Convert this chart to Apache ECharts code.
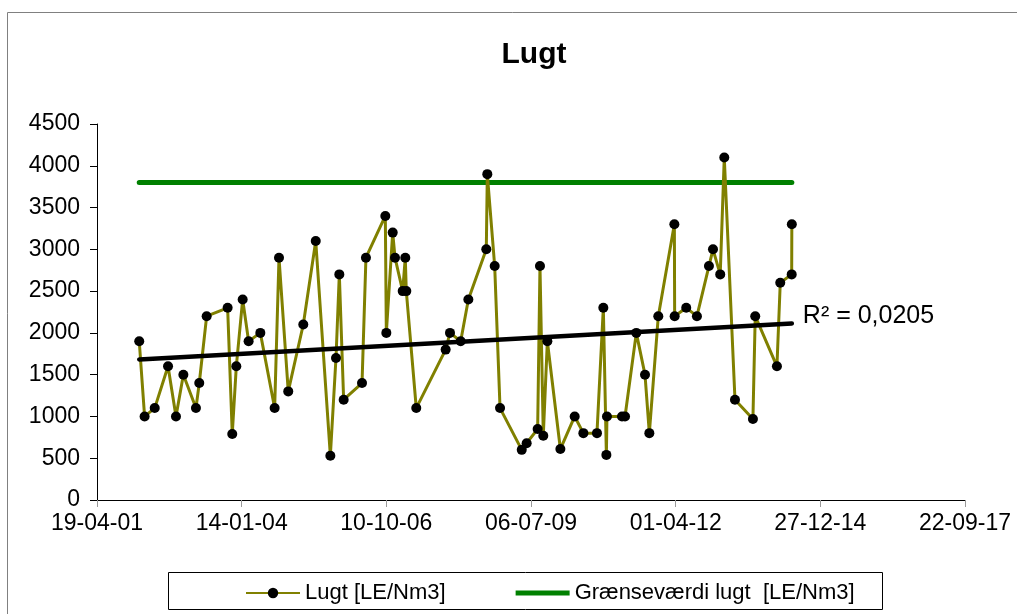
<!DOCTYPE html>
<html>
<head>
<meta charset="utf-8">
<title>Lugt</title>
<script src="https://cdn.jsdelivr.net/npm/echarts@6/dist/echarts.min.js"></script>
<style>
  html, body { margin: 0; padding: 0; background: #fff; }
  #chart { width: 1017px; height: 614px; }
</style>
</head>
<body>
<div id="chart"></div>
<script>
// dates as Excel serial day numbers (37000 = 19-04-2001)
const dates = [
  37292, 37329, 37399, 37491, 37546, 37597, 37684, 37707, 37758, 37903,
  37935, 37963, 38007, 38048, 38129, 38228, 38258, 38322, 38426, 38512,
  38613, 38652, 38675, 38705, 38832, 38859, 38993, 39000, 39044, 39060,
  39113, 39131, 39138, 39207, 39410, 39440, 39514, 39567, 39691, 39698,
  39749, 39786, 39936, 39970, 40046, 40062, 40085, 40113, 40203, 40302,
  40362, 40456, 40500, 40521, 40525, 40629, 40650, 40728, 40788, 40818,
  40880, 40991, 40993, 41073, 41147, 41230, 41258, 41308, 41336, 41410,
  41534, 41550, 41700, 41723, 41802, 41803
]
const lugt = [
  1900, 1000, 1100, 1600, 1000, 1500, 1100, 1400, 2200, 2300,
  790, 1600, 2400, 1900, 2000, 1100, 2900, 1300, 2100, 3100,
  530, 1700, 2700, 1200, 1400, 2900, 3400, 2000, 3200, 2900,
  2500, 2900, 2500, 1100, 1800, 2000, 1900, 2400, 3000, 3900,
  2800, 1100, 600, 680, 850, 2800, 770, 1900, 610, 1000,
  800, 800, 2300, 540, 1000, 1000, 1000, 2000, 1500, 800,
  2200, 3300, 2200, 2300, 2200, 2800, 3000, 2700, 4100, 1200,
  970, 2200, 1600, 2600, 2700, 3300
]
const limitValue = 3800
const r2Label = 'R² = 0,0205'
const xTicks = { min: 37000, max: 43000, step: 1000 }
const yTicks = { min: 0, max: 4500, step: 500 }

const serialToLabel = (s) => {
  const d = new Date((s - 25569) * 86400000)
  const p = (n) => String(n).padStart(2, '0')
  return p(d.getUTCDate()) + '-' + p(d.getUTCMonth() + 1) + '-' + p(d.getUTCFullYear() % 100)
}

// linear trend (least squares on serial date), like the Excel trendline
const n = dates.length
const mx = dates.reduce((a, b) => a + b, 0) / n
const my = lugt.reduce((a, b) => a + b, 0) / n
let sxy = 0, sxx = 0
for (let i = 0; i < n; i++) {
  sxy += (dates[i] - mx) * (lugt[i] - my)
  sxx += (dates[i] - mx) * (dates[i] - mx)
}
const slope = sxy / sxx
const icpt = my - slope * mx
const x0 = dates[0], x1 = dates[n - 1]

const font = 'Arial, "Liberation Sans", sans-serif'
const chart = echarts.init(document.getElementById('chart'))

chart.setOption({
  animation: false,
  backgroundColor: '#fff',
  title: {
    text: 'Lugt',
    left: 529,
    textAlign: 'center',
    top: 35,
    textStyle: { fontFamily: font, fontSize: 30, fontWeight: 'bold', color: '#000' }
  },
  graphic: [
    { type: 'rect', left: 5, top: 10, shape: { width: 1100, height: 700 },
      style: { fill: 'none', stroke: '#808080', lineWidth: 1 }, silent: true, z: -10 },
    { type: 'rect', left: 166, top: 570, shape: { width: 714, height: 37 },
      style: { fill: 'none', stroke: '#000', lineWidth: 1 }, silent: true }
  ],
  legend: {
    data: [
      { name: 'Lugt [LE/Nm3]' },
      // thick plain line, no marker
      { name: 'Grænseværdi lugt  [LE/Nm3]', icon: 'path://M0,0 M0,4 L54,4 L54,9 L0,9 Z M0,13' }
    ],
    left: 240,
    top: 577,
    itemWidth: 54,
    itemHeight: 13,
    itemGap: 70,
    textStyle: { fontFamily: font, fontSize: 22, color: '#000', lineHeight: 22 }
  },
  grid: { left: 97, right: 52, top: 124, bottom: 114 },
  xAxis: {
    type: 'value',
    min: xTicks.min,
    max: xTicks.max,
    interval: xTicks.step,
    splitLine: { show: false },
    axisLine: { lineStyle: { color: '#000', width: 1 } },
    axisTick: { show: true, length: 7, lineStyle: { color: '#999' } },
    axisLabel: {
      margin: 12,
      fontFamily: font, fontSize: 23, color: '#000',
      formatter: serialToLabel
    }
  },
  yAxis: {
    type: 'value',
    min: yTicks.min,
    max: yTicks.max,
    interval: yTicks.step,
    splitLine: { show: false },
    axisLine: { show: true, lineStyle: { color: '#000', width: 1 } },
    axisTick: { show: true, length: 7, lineStyle: { color: '#000' } },
    axisLabel: {
      margin: 17, fontFamily: font, fontSize: 23, color: '#000',
      formatter: (v) => String(v)
    }
  },
  series: [
    {
      name: 'Grænseværdi lugt  [LE/Nm3]',
      type: 'line',
      data: [[x0, limitValue], [x1, limitValue]],
      symbol: 'none',
      color: '#008000',
      lineStyle: { color: '#008000', width: 5, cap: 'round' },
      z: 2
    },
    {
      name: 'Lugt [LE/Nm3]',
      type: 'line',
      data: dates.map((d, i) => [d, lugt[i]]),
      symbol: 'circle',
      symbolSize: 10,
      showAllSymbol: true,
      itemStyle: { color: '#000' },
      lineStyle: { color: '#808000', width: 3 },
      z: 3
    },
    {
      name: 'trend',
      type: 'line',
      data: [[x0, icpt + slope * x0], [x1, icpt + slope * x1]],
      symbol: 'none',
      lineStyle: { color: '#000', width: 4.5, cap: 'round' },
      endLabel: {
        show: true,
        formatter: r2Label,
        distance: 11,
        offset: [0, -7],
        fontFamily: font, fontSize: 25, color: '#000'
      },
      z: 4
    }
  ]
})
</script>
</body>
</html>
